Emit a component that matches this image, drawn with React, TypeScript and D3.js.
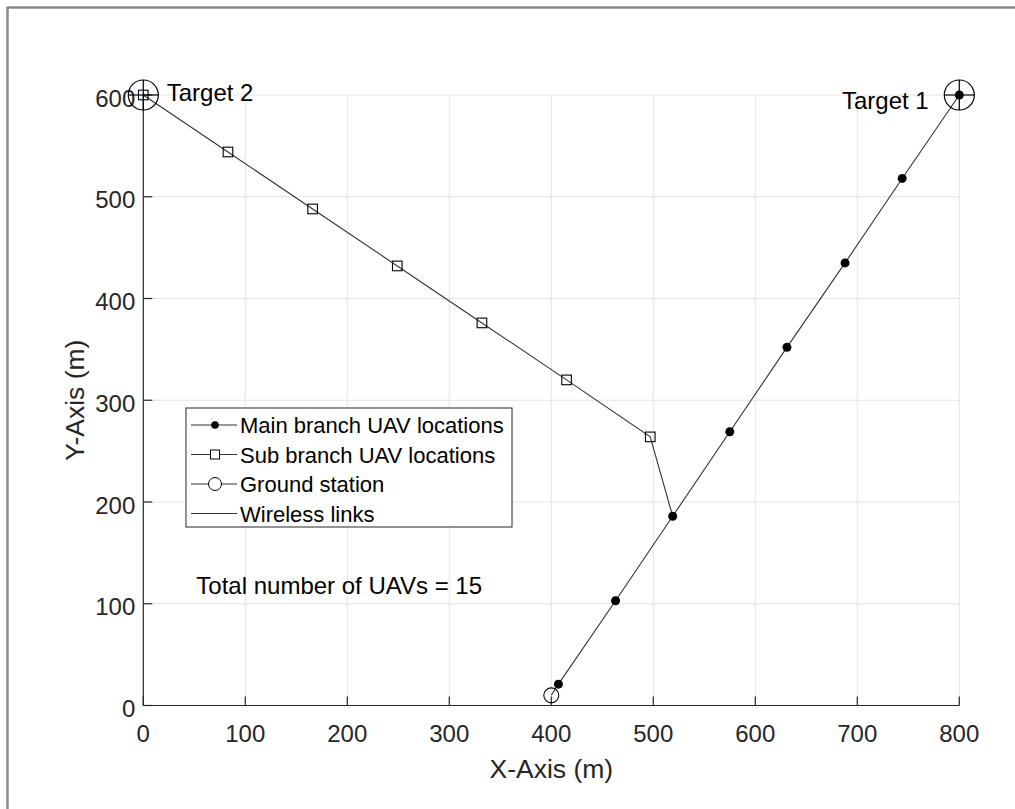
import React from "react";
import * as d3 from "d3";

const mainX = [407, 463, 519, 575, 631, 688, 744, 800];
const mainY = [21, 103, 186, 269, 352, 435, 518, 600];
const subX = [0, 83, 166, 249, 332, 415, 497];
const subY = [600, 544, 488, 432, 376, 320, 264];
const ground = { x: 400, y: 10 };
const targets = [
  { name: "Target 1", x: 800, y: 600, lx: 685, ly: 586 },
  { name: "Target 2", x: 0, y: 600, lx: 23, ly: 594 },
];
const xTicks = [0, 100, 200, 300, 400, 500, 600, 700, 800];
const yTicks = [0, 100, 200, 300, 400, 500, 600];
const legendItems = [
  { label: "Main branch UAV locations", marker: "dot" },
  { label: "Sub branch UAV locations", marker: "square" },
  { label: "Ground station", marker: "circle" },
  { label: "Wireless links", marker: "none" },
];
const annotation = { text: "Total number of UAVs = 15", x: 52, y: 110 };

const W = 1015;
const H = 809;
const FONT = "'Liberation Sans', Arial, Helvetica, sans-serif";

export default function App() {
  const x = d3.scaleLinear().domain([0, 800]).range([143.3, 959.3]);
  const y = d3.scaleLinear().domain([0, 600]).range([705.5, 95]);
  const line = d3
    .line<[number, number]>()
    .x((d) => x(d[0]))
    .y((d) => y(d[1]));

  const mainPts: [number, number][] = [[ground.x, ground.y], ...mainX.map((v, i) => [v, mainY[i]] as [number, number])];
  const subPts: [number, number][] = [
    ...subX.map((v, i) => [v, subY[i]] as [number, number]),
    [mainX[2], mainY[2]],
  ];

  const lineColor = "#333";
  const axisColor = "#262626";
  const gridColor = "#e3e3e3";

  const legX0 = 186, legY0 = 408, legW = 326, legH = 119;
  const legRows = [425, 454.5, 484, 513.5];

  return (
    <svg
      width={W}
      height={H}
      style={{ position: "absolute", left: 0, top: 0, background: "#fff" }}
      fontFamily={FONT}
    >
      <rect x={0} y={0} width={W} height={H} fill="#fff" />
      {/* frame of screenshot */}
      <line x1={7} y1={7.5} x2={W} y2={7.5} stroke="#8a8a8a" strokeWidth={2.5} />
      <line x1={7.5} y1={7} x2={7.5} y2={H} stroke="#8a8a8a" strokeWidth={2.5} />

      {/* grid */}
      {xTicks.slice(1).map((t) => (
        <line key={"gx" + t} x1={x(t)} x2={x(t)} y1={y(0)} y2={y(600)} stroke={gridColor} strokeWidth={1} />
      ))}
      {yTicks.slice(1).map((t) => (
        <line key={"gy" + t} x1={x(0)} x2={x(800)} y1={y(t)} y2={y(t)} stroke={gridColor} strokeWidth={1} />
      ))}

      {/* axes */}
      <line x1={x(0)} x2={x(800)} y1={y(0)} y2={y(0)} stroke={axisColor} strokeWidth={1.2} />
      <line x1={x(0)} x2={x(0)} y1={y(0)} y2={y(600)} stroke={axisColor} strokeWidth={1.2} />
      {xTicks.map((t) => (
        <g key={"xt" + t}>
          <line x1={x(t)} x2={x(t)} y1={y(0)} y2={y(0) - 9} stroke={axisColor} strokeWidth={1.2} />
          <text x={x(t)} y={y(0) + 36.5} fontSize={24} fill={axisColor} textAnchor="middle">
            {t}
          </text>
        </g>
      ))}
      {yTicks.map((t) => (
        <g key={"yt" + t}>
          <line x1={x(0)} x2={x(0) + 9} y1={y(t)} y2={y(t)} stroke={axisColor} strokeWidth={1.2} />
          <text x={x(0) - 8} y={y(t) + 11.5} fontSize={24} fill={axisColor} textAnchor="end">
            {t}
          </text>
        </g>
      ))}
      <text x={(x(0) + x(800)) / 2} y={778} fontSize={26.5} fill={axisColor} textAnchor="middle">
        X-Axis (m)
      </text>
      <text
        transform={`translate(84,${(y(0) + y(600)) / 2}) rotate(-90)`}
        fontSize={26.5}
        fill={axisColor}
        textAnchor="middle"
      >
        Y-Axis (m)
      </text>

      {/* links */}
      <path d={line(mainPts) || ""} fill="none" stroke={lineColor} strokeWidth={1.1} />
      <path d={line(subPts) || ""} fill="none" stroke={lineColor} strokeWidth={1.1} />

      {/* markers */}
      {subX.map((v, i) => (
        <rect key={"s" + i} x={x(v) - 4.8} y={y(subY[i]) - 4.8} width={9.6} height={9.6} fill="none" stroke="#000" strokeWidth={1.1} />
      ))}
      {mainX.map((v, i) => (
        <circle key={"m" + i} cx={x(v)} cy={y(mainY[i])} r={4.5} fill="#000" />
      ))}
      <circle cx={x(ground.x)} cy={y(ground.y)} r={7.5} fill="none" stroke="#000" strokeWidth={1.1} />
      {targets.map((t) => (
        <g key={t.name}>
          <circle cx={x(t.x)} cy={y(t.y)} r={15} fill="none" stroke="#000" strokeWidth={1.2} />
          <line x1={x(t.x) - 15} x2={x(t.x) + 15} y1={y(t.y)} y2={y(t.y)} stroke="#000" strokeWidth={1.2} />
          <line x1={x(t.x)} x2={x(t.x)} y1={y(t.y) - 15} y2={y(t.y) + 15} stroke="#000" strokeWidth={1.2} />
          <text x={x(t.lx)} y={y(t.ly)} fontSize={24} fill="#000">
            {t.name}
          </text>
        </g>
      ))}

      {/* annotation */}
      <text x={x(annotation.x)} y={y(annotation.y)} fontSize={24} fill="#000">
        {annotation.text}
      </text>

      {/* legend */}
      <rect x={legX0} y={legY0} width={legW} height={legH} fill="#fff" stroke={axisColor} strokeWidth={1} />
      {legendItems.map((it, i) => {
        const cy = legRows[i];
        const mx = 215;
        return (
          <g key={it.label}>
            <line x1={191} x2={237} y1={cy} y2={cy} stroke={lineColor} strokeWidth={1.1} />
            {it.marker === "dot" && <circle cx={mx} cy={cy} r={3.8} fill="#000" />}
            {it.marker === "square" && (
              <rect x={mx - 4.5} y={cy - 4.5} width={9} height={9} fill="#fff" stroke="#000" strokeWidth={1} />
            )}
            {it.marker === "circle" && <circle cx={mx} cy={cy} r={6.5} fill="#fff" stroke="#000" strokeWidth={1} />}
            <text x={240} y={cy + 8} fontSize={22} fill="#000">
              {it.label}
            </text>
          </g>
        );
      })}
    </svg>
  );
}
